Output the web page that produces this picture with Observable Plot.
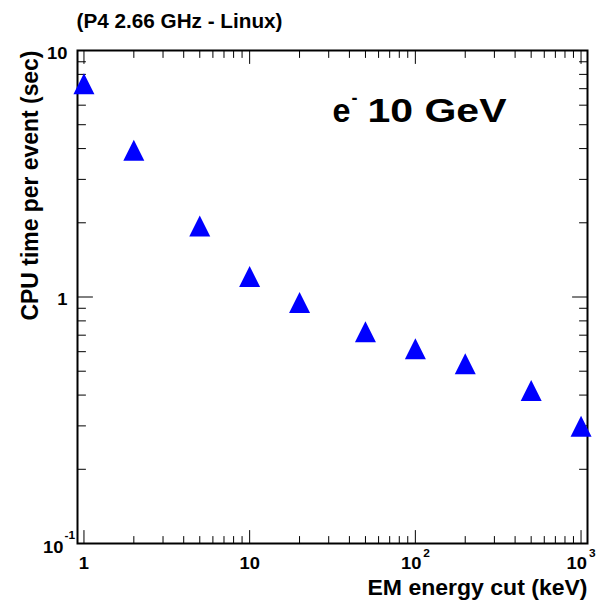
<!DOCTYPE html>
<html>
<head>
<meta charset="utf-8">
<script src="https://cdn.jsdelivr.net/npm/d3@7"></script>
<script src="https://cdn.jsdelivr.net/npm/@observablehq/plot@0.6"></script>
<style>
  body { margin: 0; background: #fff; }
  #chart { width: 598px; height: 601px; }
</style>
</head>
<body>
<div id="chart"></div>
<script>
// CPU time per event versus the EM production cut (10 GeV electrons)
const energyCut = [1, 2, 5, 10, 20, 50, 100, 200, 500, 1000];            // keV
const cpuTime   = [7.33, 3.94, 1.94, 1.21, 0.95, 0.722, 0.616, 0.536, 0.418, 0.299]; // sec

// Log-axis labels: mantissa and exponent drawn separately
const xMajorTicks = [1, 10, 100, 1000];
const xMajorBase  = ["1", "10", "10", "10"];
const xMajorExp   = ["", "", "2", "3"];
const yMajorTicks = [0.1, 1, 10];
const yMajorBase  = ["10", "1", "10"];
const yMajorExp   = ["-1", "", ""];

const titleText  = "(P4 2.66 GHz - Linux)";
const xLabelText = "EM energy cut (keV)";
const yLabelText = "CPU time per event (sec)";
const beamParticle = "e";
const beamCharge   = "-";
const beamEnergy   = "10 GeV";

const xDomain = [Math.pow(10, -0.039), Math.pow(10, 3.039)];
const yDomain = [0.1, 10];

const points = energyCut.map((x, i) => ({x, y: cpuTime[i]}));
const xLabels = xMajorTicks.map((value, i) => ({value, base: xMajorBase[i], exp: xMajorExp[i]}));
const yLabels = yMajorTicks.map((value, i) => ({value, base: yMajorBase[i], exp: yMajorExp[i]}));
const minorOf = (decades) => decades.flatMap((d) => [2, 3, 4, 5, 6, 7, 8, 9].map((m) => m * d));
const xMinorTicks = minorOf([1, 10, 100]);
const yMinorTicks = minorOf([0.1, 1]);

// Upward-pointing triangle marker with equal width and height
const triangleUp = {
  draw(context, size) {
    const r = Math.sqrt(size / Math.PI);
    context.moveTo(0, -r);
    context.lineTo(r, r);
    context.lineTo(-r, r);
    context.closePath();
  }
};

// Straight tick line drawn from the anchor point
const tickLine = {
  draw(context, length) {
    context.moveTo(0, 0);
    context.lineTo(0, -length);
  }
};

const font = {fontFamily: "Liberation Sans, Arial, Helvetica, sans-serif", fontWeight: "bold", fill: "black"};

// Inward ticks on all four sides of the frame
const ticks = (data, side, length) => {
  const o = {length, anchor: "start", shape: tickLine, stroke: "black", strokeWidth: 1};
  if (side === "bottom") return Plot.vector(data, {...o, x: (d) => d, y: yDomain[0], rotate: 0});
  if (side === "top") return Plot.vector(data, {...o, x: (d) => d, y: yDomain[1], rotate: 180});
  if (side === "left") return Plot.vector(data, {...o, y: (d) => d, x: xDomain[0], rotate: 90});
  return Plot.vector(data, {...o, y: (d) => d, x: xDomain[1], rotate: 270});
};

const svg = Plot.plot({
  width: 598,
  height: 601,
  marginLeft: 77,
  marginRight: 11,
  marginTop: 50,
  marginBottom: 58,
  x: {type: "log", domain: xDomain, axis: null},
  y: {type: "log", domain: yDomain, axis: null},
  marks: [
    ticks(xMajorTicks, "bottom", 13),
    ticks(xMinorTicks, "bottom", 7),
    ticks(xMajorTicks, "top", 13),
    ticks(xMinorTicks, "top", 7),
    ticks(yMajorTicks, "left", 15),
    ticks(yMinorTicks, "left", 8),
    ticks(yMajorTicks, "right", 15),
    ticks(yMinorTicks, "right", 8),
    Plot.frame({stroke: "black", strokeWidth: 2}),

    // x tick labels
    Plot.text(xLabels.filter((d) => !d.exp), {...font, x: "value", y: yDomain[0], text: "base", dy: 20, lineAnchor: "middle", textAnchor: "middle", fontSize: 17}),
    Plot.text(xLabels.filter((d) => d.exp), {...font, x: "value", y: yDomain[0], text: "base", dx: 6, dy: 20, lineAnchor: "middle", textAnchor: "end", fontSize: 17}),
    Plot.text(xLabels.filter((d) => d.exp), {...font, x: "value", y: yDomain[0], text: "exp", dx: 8, dy: 10, lineAnchor: "middle", textAnchor: "start", fontSize: 11}),

    // y tick labels
    Plot.text(yLabels.filter((d) => !d.exp), {...font, x: xDomain[0], y: "value", text: "base", dx: -10, dy: 3, lineAnchor: "middle", textAnchor: "end", fontSize: 17}),
    Plot.text(yLabels.filter((d) => d.exp), {...font, x: xDomain[0], y: "value", text: "base", dx: -14, dy: 4, lineAnchor: "middle", textAnchor: "end", fontSize: 17}),
    Plot.text(yLabels.filter((d) => d.exp), {...font, x: xDomain[0], y: "value", text: "exp", dx: -13, dy: -8, lineAnchor: "middle", textAnchor: "start", fontSize: 11}),

    // data
    Plot.dot(points, {x: "x", y: "y", symbol: triangleUp, r: 10.5, fill: "#0000ff", stroke: "none"}),

    // axis titles
    Plot.text([xLabelText], {...font, frameAnchor: "bottom-right", dy: 51, textAnchor: "end", lineAnchor: "bottom", fontSize: 22, className: "stretch-220"}),
    Plot.text([yLabelText], {...font, frameAnchor: "top-left", dx: -40, dy: 0, rotate: -90, textAnchor: "end", lineAnchor: "bottom", fontSize: 24, className: "stretch-270"}),

    // title and annotation
    Plot.text([titleText], {...font, frameAnchor: "top-left", dx: -1, dy: -23, textAnchor: "start", lineAnchor: "bottom", fontSize: 20, className: "stretch-206"}),
    Plot.text([beamParticle], {...font, frameAnchor: "top-left", dx: 255, dy: 71, textAnchor: "start", lineAnchor: "bottom", fontSize: 34, className: "stretch-18"}),
    Plot.text([beamCharge], {...font, frameAnchor: "top-left", dx: 274, dy: 53, textAnchor: "start", lineAnchor: "bottom", fontSize: 18, className: "stretch-6"}),
    Plot.text([beamEnergy], {...font, frameAnchor: "top-left", dx: 290, dy: 71, textAnchor: "start", lineAnchor: "bottom", fontSize: 34, className: "stretch-139"})
  ]
});

document.getElementById("chart").append(svg);

// Widen the bold lettering: fixed lengths for titles, a common factor elsewhere
d3.select(svg).selectAll("g").each(function () {
  const cls = Array.from(this.classList || []).find((c) => c.startsWith("stretch-"));
  d3.select(this).selectAll("text").each(function () {
    const natural = this.getComputedTextLength();
    const target = cls ? +cls.slice(8) : natural * 1.08;
    this.setAttribute("textLength", target);
    this.setAttribute("lengthAdjust", "spacingAndGlyphs");
  });
});
</script>
</body>
</html>
